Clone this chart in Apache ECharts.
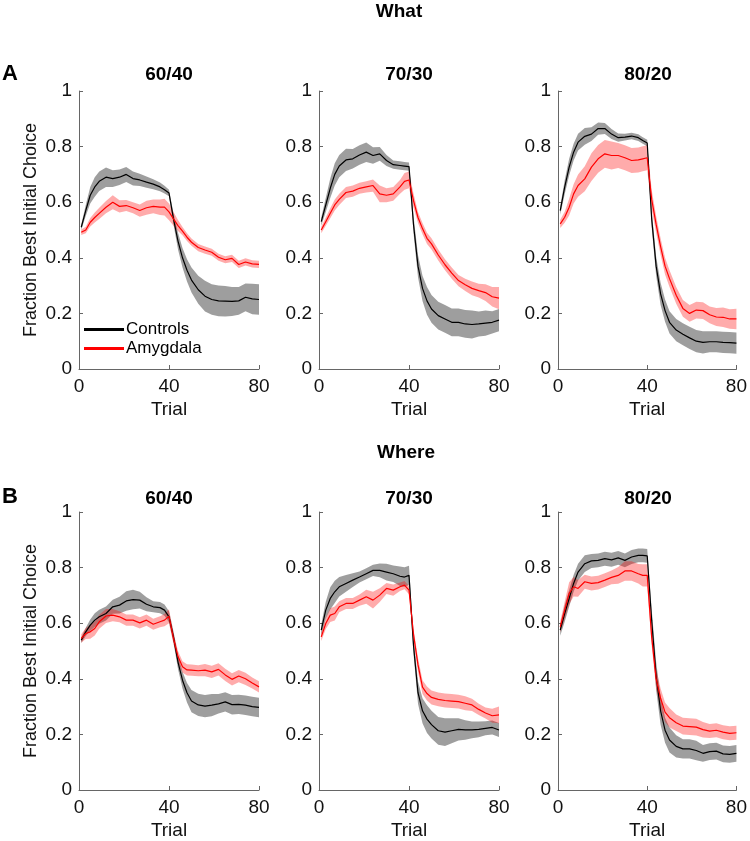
<!DOCTYPE html>
<html>
<head>
<meta charset="utf-8">
<script src="https://cdn.jsdelivr.net/npm/echarts@6/dist/echarts.min.js"></script>
<style>
  html, body { margin: 0; padding: 0; background: #fff; }
  #chart { width: 750px; height: 841px; }
</style>
</head>
<body>
<div id="chart"></div>
<script>
// trial numbers at which the curves were read
const trials = [1, 3, 5, 7, 9, 12, 15, 18, 21, 24, 27, 30, 33, 36, 38, 40, 42, 44, 46, 48, 50, 53, 56, 59, 62, 65, 68, 71, 74, 77, 80];
const panelTitles = ['60/40', '70/30', '80/20'];
const rowTitles = ['What', 'Where'];
const xTicks = [0, 40, 80];

// What: controls / amygdala, mean and sem
const whatCtrl6040 = [0.51, 0.57, 0.625, 0.655, 0.675, 0.69, 0.685, 0.69, 0.70, 0.685, 0.68, 0.672, 0.665, 0.655, 0.645, 0.633, 0.54, 0.46, 0.40, 0.355, 0.32, 0.285, 0.262, 0.25, 0.245, 0.244, 0.243, 0.245, 0.258, 0.252, 0.25];
const whatCtrl6040Sem = [0.01, 0.02, 0.03, 0.035, 0.035, 0.035, 0.03, 0.028, 0.027, 0.025, 0.022, 0.02, 0.018, 0.016, 0.014, 0.012, 0.02, 0.03, 0.035, 0.04, 0.045, 0.05, 0.055, 0.055, 0.055, 0.055, 0.052, 0.05, 0.05, 0.055, 0.055];
const whatAmyg6040 = [0.492, 0.50, 0.528, 0.545, 0.56, 0.582, 0.60, 0.585, 0.588, 0.58, 0.57, 0.58, 0.585, 0.582, 0.582, 0.565, 0.54, 0.516, 0.496, 0.474, 0.456, 0.437, 0.428, 0.42, 0.402, 0.393, 0.398, 0.376, 0.385, 0.378, 0.376];
const whatAmyg6040Sem = [0.01, 0.012, 0.015, 0.018, 0.02, 0.022, 0.025, 0.022, 0.02, 0.02, 0.022, 0.025, 0.025, 0.028, 0.03, 0.03, 0.025, 0.02, 0.015, 0.014, 0.013, 0.013, 0.013, 0.013, 0.013, 0.013, 0.013, 0.013, 0.013, 0.013, 0.013];

const whatCtrl7030 = [0.53, 0.59, 0.65, 0.70, 0.73, 0.752, 0.756, 0.77, 0.78, 0.768, 0.774, 0.75, 0.735, 0.732, 0.73, 0.728, 0.52, 0.37, 0.29, 0.245, 0.216, 0.192, 0.18, 0.168, 0.168, 0.162, 0.16, 0.162, 0.165, 0.168, 0.176];
const whatCtrl7030Sem = [0.015, 0.025, 0.035, 0.04, 0.04, 0.04, 0.035, 0.035, 0.035, 0.03, 0.025, 0.02, 0.015, 0.015, 0.015, 0.015, 0.03, 0.04, 0.045, 0.05, 0.05, 0.05, 0.05, 0.05, 0.05, 0.05, 0.05, 0.045, 0.045, 0.04, 0.04];
const whatAmyg7030 = [0.50, 0.53, 0.56, 0.59, 0.61, 0.635, 0.64, 0.65, 0.655, 0.66, 0.63, 0.625, 0.63, 0.655, 0.675, 0.68, 0.606, 0.545, 0.505, 0.47, 0.45, 0.41, 0.375, 0.345, 0.318, 0.303, 0.29, 0.282, 0.275, 0.26, 0.255];
const whatAmyg7030Sem = [0.012, 0.015, 0.018, 0.02, 0.02, 0.02, 0.02, 0.02, 0.02, 0.022, 0.03, 0.025, 0.025, 0.025, 0.03, 0.03, 0.025, 0.02, 0.02, 0.02, 0.02, 0.02, 0.02, 0.02, 0.02, 0.022, 0.025, 0.025, 0.03, 0.035, 0.04];

const whatCtrl8020 = [0.57, 0.654, 0.726, 0.78, 0.816, 0.837, 0.845, 0.865, 0.865, 0.845, 0.832, 0.834, 0.838, 0.832, 0.822, 0.813, 0.54, 0.37, 0.27, 0.21, 0.168, 0.14, 0.125, 0.112, 0.1, 0.096, 0.098, 0.098, 0.096, 0.095, 0.093];
const whatCtrl8020Sem = [0.015, 0.025, 0.03, 0.03, 0.03, 0.03, 0.025, 0.022, 0.02, 0.018, 0.015, 0.012, 0.012, 0.012, 0.012, 0.012, 0.03, 0.035, 0.04, 0.04, 0.04, 0.04, 0.04, 0.04, 0.04, 0.04, 0.038, 0.038, 0.038, 0.038, 0.038];
const whatAmyg8020 = [0.522, 0.546, 0.582, 0.63, 0.66, 0.684, 0.726, 0.756, 0.774, 0.768, 0.768, 0.76, 0.75, 0.752, 0.756, 0.76, 0.61, 0.52, 0.44, 0.37, 0.325, 0.265, 0.218, 0.2, 0.212, 0.21, 0.195, 0.187, 0.186, 0.18, 0.18];
const whatAmyg8020Sem = [0.015, 0.02, 0.03, 0.035, 0.04, 0.045, 0.05, 0.05, 0.05, 0.05, 0.045, 0.045, 0.045, 0.045, 0.045, 0.045, 0.035, 0.03, 0.03, 0.03, 0.03, 0.03, 0.03, 0.03, 0.03, 0.03, 0.03, 0.032, 0.035, 0.035, 0.037];

// Where
const whereCtrl6040 = [0.539, 0.569, 0.593, 0.611, 0.623, 0.635, 0.659, 0.665, 0.68, 0.685, 0.683, 0.668, 0.659, 0.656, 0.647, 0.623, 0.55, 0.46, 0.395, 0.35, 0.32, 0.306, 0.302, 0.305, 0.31, 0.317, 0.307, 0.308, 0.305, 0.3, 0.297];
const whereCtrl6040Sem = [0.01, 0.015, 0.02, 0.025, 0.025, 0.025, 0.025, 0.03, 0.035, 0.035, 0.03, 0.025, 0.02, 0.02, 0.02, 0.02, 0.02, 0.025, 0.03, 0.035, 0.04, 0.04, 0.04, 0.04, 0.035, 0.035, 0.035, 0.035, 0.035, 0.035, 0.035];
const whereAmyg6040 = [0.545, 0.563, 0.569, 0.581, 0.605, 0.626, 0.629, 0.623, 0.611, 0.611, 0.601, 0.611, 0.596, 0.605, 0.611, 0.625, 0.545, 0.48, 0.443, 0.432, 0.431, 0.429, 0.431, 0.425, 0.434, 0.414, 0.398, 0.41, 0.4, 0.385, 0.371];
const whereAmyg6040Sem = [0.015, 0.02, 0.025, 0.025, 0.025, 0.025, 0.022, 0.02, 0.02, 0.02, 0.02, 0.02, 0.02, 0.02, 0.022, 0.025, 0.02, 0.02, 0.02, 0.02, 0.02, 0.02, 0.022, 0.022, 0.022, 0.022, 0.022, 0.022, 0.022, 0.02, 0.02];

const whereCtrl7030 = [0.575, 0.647, 0.689, 0.713, 0.731, 0.743, 0.755, 0.766, 0.778, 0.79, 0.79, 0.784, 0.778, 0.769, 0.766, 0.772, 0.52, 0.35, 0.285, 0.255, 0.235, 0.213, 0.208, 0.213, 0.218, 0.216, 0.216, 0.218, 0.222, 0.225, 0.216];
const whereCtrl7030Sem = [0.02, 0.03, 0.04, 0.04, 0.035, 0.03, 0.025, 0.02, 0.02, 0.02, 0.025, 0.03, 0.03, 0.035, 0.035, 0.035, 0.03, 0.04, 0.045, 0.05, 0.05, 0.05, 0.05, 0.045, 0.04, 0.035, 0.03, 0.028, 0.025, 0.025, 0.025];
const whereAmyg7030 = [0.551, 0.599, 0.629, 0.635, 0.659, 0.671, 0.671, 0.683, 0.695, 0.683, 0.701, 0.725, 0.719, 0.731, 0.737, 0.719, 0.56, 0.45, 0.37, 0.347, 0.333, 0.326, 0.322, 0.32, 0.318, 0.312, 0.306, 0.29, 0.277, 0.267, 0.27];
const whereAmyg7030Sem = [0.015, 0.02, 0.025, 0.025, 0.02, 0.02, 0.02, 0.02, 0.025, 0.03, 0.025, 0.02, 0.02, 0.015, 0.015, 0.015, 0.02, 0.025, 0.025, 0.025, 0.025, 0.025, 0.025, 0.025, 0.025, 0.025, 0.022, 0.02, 0.02, 0.025, 0.03];

const whereCtrl8020 = [0.575, 0.635, 0.689, 0.743, 0.784, 0.814, 0.824, 0.826, 0.832, 0.828, 0.835, 0.826, 0.838, 0.844, 0.844, 0.842, 0.61, 0.41, 0.285, 0.215, 0.18, 0.157, 0.148, 0.148, 0.142, 0.132, 0.138, 0.14, 0.13, 0.128, 0.132];
const whereCtrl8020Sem = [0.02, 0.03, 0.03, 0.03, 0.03, 0.03, 0.025, 0.025, 0.025, 0.025, 0.025, 0.025, 0.025, 0.025, 0.025, 0.025, 0.04, 0.05, 0.05, 0.045, 0.045, 0.04, 0.035, 0.035, 0.035, 0.03, 0.03, 0.03, 0.03, 0.03, 0.03];
const whereAmyg8020 = [0.587, 0.647, 0.707, 0.731, 0.725, 0.749, 0.743, 0.746, 0.755, 0.765, 0.772, 0.788, 0.788, 0.778, 0.772, 0.772, 0.55, 0.4, 0.33, 0.28, 0.26, 0.242, 0.23, 0.228, 0.226, 0.217, 0.212, 0.215, 0.208, 0.204, 0.206];
const whereAmyg8020Sem = [0.02, 0.03, 0.04, 0.035, 0.03, 0.025, 0.025, 0.025, 0.025, 0.025, 0.03, 0.035, 0.035, 0.035, 0.04, 0.04, 0.03, 0.035, 0.035, 0.035, 0.035, 0.03, 0.03, 0.03, 0.03, 0.028, 0.025, 0.025, 0.025, 0.025, 0.025];

const panels = [
  [whatCtrl6040, whatCtrl6040Sem, whatAmyg6040, whatAmyg6040Sem],
  [whatCtrl7030, whatCtrl7030Sem, whatAmyg7030, whatAmyg7030Sem],
  [whatCtrl8020, whatCtrl8020Sem, whatAmyg8020, whatAmyg8020Sem],
  [whereCtrl6040, whereCtrl6040Sem, whereAmyg6040, whereAmyg6040Sem],
  [whereCtrl7030, whereCtrl7030Sem, whereAmyg7030, whereAmyg7030Sem],
  [whereCtrl8020, whereCtrl8020Sem, whereAmyg8020, whereAmyg8020Sem]
];

const FONT = '"Liberation Sans", Arial, sans-serif';
const colLeft = [79, 319, 558];
const rowTop = [91, 512];
const plotW = 180, plotH = 278;

const chart = echarts.init(document.getElementById('chart'));

const grids = [], xAxes = [], yAxes = [], series = [], graphics = [];

function bandSeries(idx, mean, sem, color) {
  const pts = trials.map((t, i) => [t, mean[i] - sem[i], mean[i] + sem[i]]);
  return {
    type: 'custom',
    xAxisIndex: idx,
    yAxisIndex: idx,
    silent: true,
    z: 1,
    data: pts,
    encode: { x: 0, y: [1, 2] },
    renderItem: function (params, api) {
      if (params.dataIndex !== 0) return null;
      const upper = pts.map(p => api.coord([p[0], p[2]]));
      const lower = pts.map(p => api.coord([p[0], p[1]])).reverse();
      return {
        type: 'polygon',
        shape: { points: upper.concat(lower) },
        style: { fill: color }
      };
    }
  };
}

panels.forEach((p, idx) => {
  const row = Math.floor(idx / 3), col = idx % 3;
  grids.push({ left: colLeft[col], top: rowTop[row], width: plotW, height: plotH });
  xAxes.push({
    gridIndex: idx, type: 'value', min: 0, max: 80, interval: 40,
    name: 'Trial', nameLocation: 'middle', nameGap: 31,
    nameTextStyle: { fontFamily: FONT, fontSize: 19, color: '#111' },
    axisLine: { lineStyle: { color: '#666', width: 1 } },
    axisTick: { inside: true, length: 4, lineStyle: { color: '#666' } },
    axisLabel: { fontFamily: FONT, fontSize: 19, color: '#111', margin: 8 },
    splitLine: { show: false }
  });
  yAxes.push({
    gridIndex: idx, type: 'value', min: 0, max: 1, interval: 0.2,
    name: col === 0 ? 'Fraction Best Initial Choice' : '',
    nameLocation: 'middle', nameGap: 39,
    nameTextStyle: { fontFamily: FONT, fontSize: 18, color: '#111' },
    axisLine: { show: true, lineStyle: { color: '#666', width: 1 } },
    axisTick: { show: true, inside: true, length: 4, lineStyle: { color: '#666' } },
    axisLabel: { fontFamily: FONT, fontSize: 19, color: '#111', margin: 7,
      formatter: v => String(Math.round(v * 10) / 10) },
    splitLine: { show: false }
  });
  series.push(bandSeries(idx, p[0], p[1], 'rgba(0,0,0,0.38)'));
  series.push(bandSeries(idx, p[2], p[3], 'rgba(255,0,0,0.33)'));
  series.push({
    name: 'Controls', type: 'line', xAxisIndex: idx, yAxisIndex: idx, z: 3,
    symbol: 'none', color: '#000', lineStyle: { width: 1.2, color: '#000' },
    data: trials.map((t, i) => [t, p[0][i]])
  });
  series.push({
    name: 'Amygdala', type: 'line', xAxisIndex: idx, yAxisIndex: idx, z: 3,
    symbol: 'none', color: '#ff0000', lineStyle: { width: 1.2, color: '#ff0000' },
    data: trials.map((t, i) => [t, p[2][i]])
  });
  graphics.push({
    type: 'text', x: colLeft[col] + plotW / 2, y: row === 0 ? 75 : 499,
    style: { text: panelTitles[col], fontFamily: FONT, fontSize: 19, fontWeight: 'bold',
      fill: '#000', align: 'center', verticalAlign: 'middle' }
  });
});

graphics.push({ type: 'text', x: 399, y: 12,
  style: { text: rowTitles[0], fontFamily: FONT, fontSize: 19, fontWeight: 'bold', fill: '#000', align: 'center', verticalAlign: 'middle' } });
graphics.push({ type: 'text', x: 406, y: 453,
  style: { text: rowTitles[1], fontFamily: FONT, fontSize: 19, fontWeight: 'bold', fill: '#000', align: 'center', verticalAlign: 'middle' } });
graphics.push({ type: 'text', x: 10, y: 74,
  style: { text: 'A', fontFamily: FONT, fontSize: 22, fontWeight: 'bold', fill: '#000', align: 'center', verticalAlign: 'middle' } });
graphics.push({ type: 'text', x: 10, y: 497,
  style: { text: 'B', fontFamily: FONT, fontSize: 22, fontWeight: 'bold', fill: '#000', align: 'center', verticalAlign: 'middle' } });

chart.setOption({
  animation: false,
  grid: grids,
  xAxis: xAxes,
  yAxis: yAxes,
  series: series,
  graphic: graphics,
  legend: {
    data: ['Controls', 'Amygdala'],
    orient: 'vertical',
    left: 84, top: 321,
    icon: 'rect',
    itemWidth: 40, itemHeight: 3,
    itemGap: 2,
    textStyle: { fontFamily: FONT, fontSize: 17, color: '#000', padding: [0, 0, 0, -3] },
    padding: 0
  }
});
</script>
</body>
</html>
